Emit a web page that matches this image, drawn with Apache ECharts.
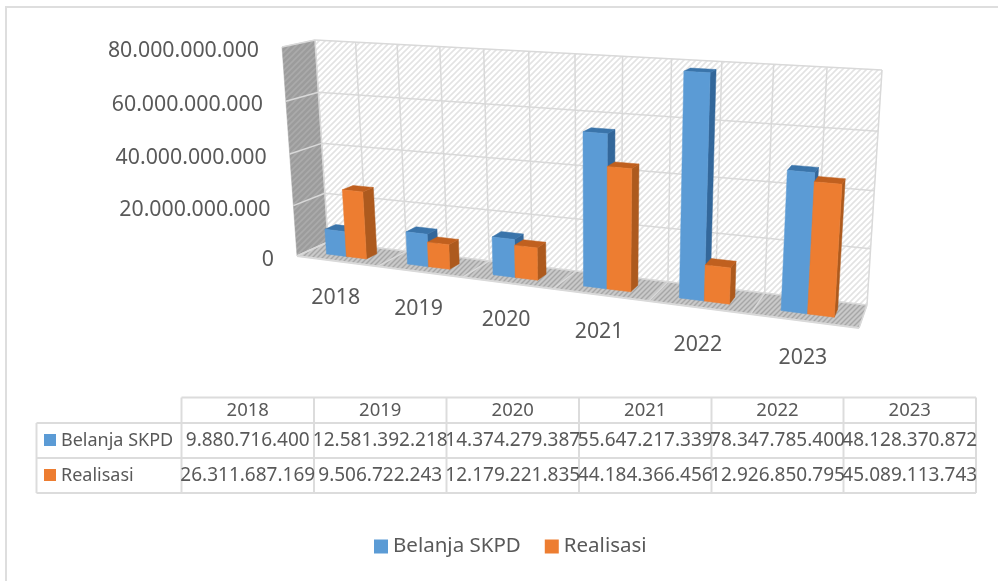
<!DOCTYPE html>
<html>
<head>
<meta charset="utf-8">
<title>Belanja SKPD dan Realisasi</title>
<script src="https://cdn.jsdelivr.net/npm/echarts@6/dist/echarts.min.js"></script>
<style>
html, body { margin: 0; padding: 0; background: #fff; }
#chart { width: 998px; height: 581px; }
</style>
</head>
<body>
<div id="chart"></div>
<script>
// chart values
const categories = ['2018', '2019', '2020', '2021', '2022', '2023'];
const belanjaSkpd = [9880716400, 12581392218, 14374279387, 55647217339, 78347785400, 48128370872];
const realisasi = [26311687169, 9506722243, 12179221835, 44184366456, 12926850795, 45089113743];
const valueTicks = [0, 20000000000, 40000000000, 60000000000, 80000000000];
const seriesNames = ['Belanja SKPD', 'Realisasi'];

const FONT = '"Noto Sans", sans-serif';
const TEXT = '#595959';
const LINE = '#d9d9d9';
const MAX = 80000000000;

// hidden grid, only used for its scales
const GRID = { x: 314, y: 40, w: 568, h: 202 };

// standard square -> quad homography
function quadMap(p) {
    const [x0, y0] = p[0], [x1, y1] = p[1], [x2, y2] = p[2], [x3, y3] = p[3];
    const dx1 = x1 - x2, dx2 = x3 - x2, sx = x0 - x1 + x2 - x3;
    const dy1 = y1 - y2, dy2 = y3 - y2, sy = y0 - y1 + y2 - y3;
    const den = dx1 * dy2 - dx2 * dy1;
    const g = (sx * dy2 - dx2 * sy) / den, h = (dx1 * sy - sx * dy1) / den;
    const a = x1 - x0 + g * x1, b = x3 - x0 + h * x3;
    const d = y1 - y0 + g * y1, e = y3 - y0 + h * y3;
    return (s, t) => {
        const w = g * s + h * t + 1;
        return [(a * s + b * t + x0) / w, (d * s + e * t + y0) / w];
    };
}

// wall planes: corners are bottom-left, bottom-right, top-right, top-left
const backPlane = quadMap([[328, 242], [867, 305], [882, 70], [315, 40]]);
const frontPlane = quadMap([[297, 256], [859, 328], [875, 80], [282, 47]]);

// s across the categories, t up the values, depth 0 at the back wall and 1 at the front
function project(s, t, depth) {
    const b = backPlane(s, t), f = frontPlane(s, t);
    return [b[0] + (f[0] - b[0]) * depth, b[1] + (f[1] - b[1]) * depth];
}

// turn hidden grid pixels into the perspective picture
function toScene(px, py, depth) {
    return project((px - GRID.x) / GRID.w, (GRID.y + GRID.h - py) / GRID.h, depth);
}

function hatch(bg, fg, size, width) {
    const c = document.createElement('canvas');
    c.width = c.height = size;
    const ctx = c.getContext('2d');
    ctx.fillStyle = bg;
    ctx.fillRect(0, 0, size, size);
    ctx.strokeStyle = fg;
    ctx.lineWidth = width;
    ctx.beginPath();
    ctx.moveTo(-1, 1); ctx.lineTo(1, -1);
    ctx.moveTo(-1, size + 1); ctx.lineTo(size + 1, -1);
    ctx.moveTo(size - 1, size + 1); ctx.lineTo(size + 1, size - 1);
    ctx.stroke();
    return { image: c, repeat: 'repeat' };
}

const wallFill = hatch('#ffffff', '#e3e3e3', 6, 1.6);
const sideFill = hatch('#9c9c9c', '#ababab', 6, 1.6);
const floorFill = hatch('#c9c9c9', '#a6a6a6', 5, 1.4);

function poly(points, fill, stroke) {
    return { type: 'polygon', shape: { points: points }, style: { fill: fill, stroke: stroke || fill, lineWidth: stroke ? 1 : 0.5 } };
}

function seg(a, b, width) {
    return { type: 'line', shape: { x1: a[0], y1: a[1], x2: b[0], y2: b[1] }, style: { stroke: LINE, lineWidth: width || 1.5 } };
}

function label(text, pos, align) {
    return { type: 'text', style: { text: text, x: pos[0], y: pos[1], fill: TEXT, font: '21.3px ' + FONT, textAlign: align, textVerticalAlign: 'middle' } };
}

function formatId(v) {
    return String(v).replace(/\B(?=(\d{3})+$)/g, '.');
}

// walls, floor, gridlines and the axis labels
function renderWalls(params, api) {
    const kids = [];
    kids.push(poly([project(0, 0, 0), project(1, 0, 0), project(1, 1, 0), project(0, 1, 0)], wallFill));
    kids.push(poly([project(0, 0, 1), project(0, 0, 0), project(0, 1, 0), project(0, 1, 1)], sideFill));
    kids.push(poly([project(0, 0, 1), project(1, 0, 1), project(1, 0, 0), project(0, 0, 0)], floorFill));

    valueTicks.forEach(function (v) {
        const t = (GRID.y + GRID.h - api.coord([0, v])[1]) / GRID.h;
        kids.push(seg(project(0, t, 0), project(1, t, 0)));
        kids.push(seg(project(0, t, 1), project(0, t, 0)));
        const p = project(0, t, 1);
        kids.push(label(formatId(v), [p[0] - 23, p[1] + 4], 'right'));
    });

    const band = api.size([1, 0])[0] / GRID.w;
    categories.forEach(function (name, i) {
        const s = (api.coord([i, 0])[0] - GRID.x) / GRID.w;
        [s - band / 2, s].forEach(function (q) {
            kids.push(seg(project(q, 0, 0), project(q, 1, 0)));
        });
        kids.push(seg(project(s - band / 2, 0, 1), project(s - band / 2, 0, 0)));
        const p = project(s, 0, 1);
        kids.push(label(name, [p[0] - 1, p[1] + 37], 'center'));
    });
    kids.push(seg(project(1, 0, 0), project(1, 1, 0)));
    kids.push(seg(project(1, 0, 1), project(1, 0, 0)));
    kids.push(seg(project(0, 0, 1), project(1, 0, 1), 2));
    return { type: 'group', children: kids };
}

// one 3D column: left and right are fractions of the category band
function barRenderer(left, right, front, side, top) {
    return function (params, api) {
        const base = api.coord([api.value(0), 0]);
        const head = api.coord([api.value(0), api.value(1)]);
        const band = api.size([1, 0])[0];
        const x0 = base[0] + left * band, x1 = base[0] + right * band;
        const dBack = 0.33, dFront = 0.68;
        const a = toScene(x0, base[1], dFront), b = toScene(x1, base[1], dFront);
        const c = toScene(x1, head[1], dFront), e = toScene(x0, head[1], dFront);
        const f = toScene(x1, base[1], dBack), g = toScene(x1, head[1], dBack);
        const h = toScene(x0, head[1], dBack);
        return {
            type: 'group',
            children: [poly([b, f, g, c], side), poly([e, c, g, h], top), poly([a, b, c, e], front)]
        };
    };
}

const blue = '#5b9bd5', orange = '#ed7d31';

const option = {
    backgroundColor: '#ffffff',
    animation: false,
    grid: { left: GRID.x, top: GRID.y, width: GRID.w, height: GRID.h },
    xAxis: { type: 'category', data: categories, show: false },
    yAxis: { type: 'value', min: 0, max: MAX, interval: 20000000000, show: false },
    legend: {
        data: seriesNames,
        left: 369,
        top: 531,
        icon: 'rect',
        itemWidth: 14,
        itemHeight: 14,
        itemGap: 24,
        selectedMode: false,
        textStyle: { color: TEXT, fontSize: 20.5, fontFamily: FONT }
    },
    series: [
        { type: 'custom', name: 'walls', silent: true, clip: false, z: 1, data: [[0, 0]], renderItem: renderWalls },
        {
            type: 'custom', name: seriesNames[0], clip: false, z: 2,
            itemStyle: { color: blue },
            data: belanjaSkpd.map((v, i) => [i, v]),
            encode: { x: 0, y: 1 },
            renderItem: barRenderer(-0.25, 0, blue, '#33679a', '#3a74aa')
        },
        {
            type: 'custom', name: seriesNames[1], clip: false, z: 3,
            itemStyle: { color: orange },
            data: realisasi.map((v, i) => [i, v]),
            encode: { x: 0, y: 1 },
            renderItem: barRenderer(0, 0.25, orange, '#ad5a1e', '#c0601f')
        }
    ],
    graphic: buildTable()
};

// data table under the plot, plus the outer chart border
function buildTable() {
    const cols = [36.5, 181.5, 314, 446.5, 579, 711.5, 843.5, 976];
    const rows = [397.5, 423, 458, 493];
    const els = [];
    const line = (x1, y1, x2, y2) => els.push({ type: 'line', shape: { x1, y1, x2, y2 }, style: { stroke: '#dcdcdc', lineWidth: 2 } });
    const txt = (text, x, y, align, size) => els.push({ type: 'text', style: { text, x, y, fill: TEXT, font: size + 'px ' + FONT, textAlign: align, textVerticalAlign: 'middle' } });

    els.push({ type: 'rect', shape: { x: 6, y: 7, width: 1100, height: 700 }, style: { fill: 'none', stroke: '#dedede', lineWidth: 2 } });

    line(cols[1], rows[0], cols[7], rows[0]);
    line(cols[0], rows[1], cols[7], rows[1]);
    line(cols[0], rows[2], cols[7], rows[2]);
    line(cols[0], rows[3], cols[7], rows[3]);
    line(cols[0], rows[1], cols[0], rows[3]);
    for (let i = 1; i < cols.length; i++) line(cols[i], rows[0], cols[i], rows[3]);

    categories.forEach(function (name, i) {
        const mid = (cols[i + 1] + cols[i + 2]) / 2;
        txt(name, mid, 410.5, 'center', 18.5);
        txt(formatId(belanjaSkpd[i]), mid, 441, 'center', 19);
        txt(formatId(realisasi[i]), mid, 476, 'center', 19);
    });
    [[blue, 434, 441], [orange, 469, 476]].forEach(function (r, i) {
        els.push({ type: 'rect', shape: { x: 44, y: r[1], width: 12, height: 12 }, style: { fill: r[0] } });
        txt(seriesNames[i], 61, r[2], 'left', 18);
    });
    return { elements: els };
}

const chart = echarts.init(document.getElementById('chart'));
chart.setOption(option);
</script>
</body>
</html>
